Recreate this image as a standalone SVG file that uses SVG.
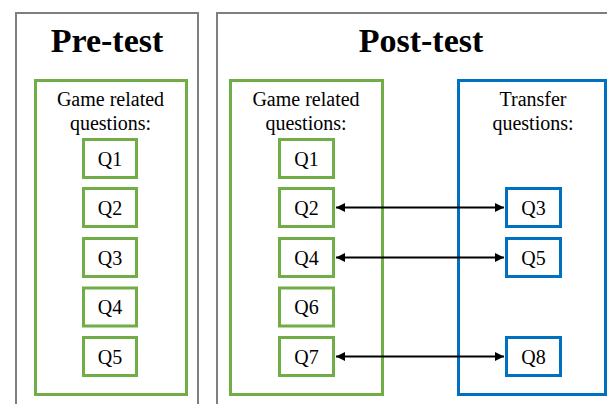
<svg xmlns="http://www.w3.org/2000/svg" width="607" height="404" viewBox="0 0 607 404">
  <defs>
    <style>
      .panel { fill: #ffffff; stroke: #7f7f7f; stroke-width: 2; }
      .grp-green { fill: none; stroke: #70ad47; stroke-width: 3; }
      .grp-blue { fill: none; stroke: #0070c0; stroke-width: 3; }
      .q-green { fill: #ffffff; stroke: #70ad47; stroke-width: 3; }
      .q-blue { fill: #ffffff; stroke: #0070c0; stroke-width: 3; }
      .title { font-family: "Liberation Serif", "Times New Roman", serif; font-weight: bold; font-size: 34px; fill: #000; text-anchor: middle; }
      .label { font-family: "Liberation Serif", "Times New Roman", serif; font-size: 20px; fill: #000; text-anchor: middle; }
      .link { stroke: #000; stroke-width: 1.8; fill: none; marker-start: url(#head); marker-end: url(#head); }
    </style>
    <marker id="head" viewBox="0 0 10 10" refX="10" refY="5" markerWidth="5" markerHeight="5" orient="auto-start-reverse" markerUnits="strokeWidth">
      <path d="M0,0 L10,5 L0,10 Z" fill="#000"/>
    </marker>
  </defs>

  <!-- Pre-test panel -->
  <g id="pre-test">
    <rect class="panel" x="16" y="13" width="182" height="400"/>
    <text class="title" x="107" y="52">Pre-test</text>
    <rect class="grp-green" x="35.5" y="80.5" width="151" height="314"/>
    <text class="label" x="110.5" y="106">Game related</text>
    <text class="label" x="110.5" y="130">questions:</text>
  </g>
  <g id="pre-q1"><rect class="q-green" x="83.5" y="139.5" width="53" height="38"/><text class="label" x="110" y="165.5">Q1</text></g>
  <g id="pre-q2"><rect class="q-green" x="83.5" y="188.5" width="53" height="38"/><text class="label" x="110" y="214.5">Q2</text></g>
  <g id="pre-q3"><rect class="q-green" x="83.5" y="238.5" width="53" height="38"/><text class="label" x="110" y="264.5">Q3</text></g>
  <g id="pre-q4"><rect class="q-green" x="83.5" y="288" width="53" height="38"/><text class="label" x="110" y="314">Q4</text></g>
  <g id="pre-q5"><rect class="q-green" x="83.5" y="337.5" width="53" height="38"/><text class="label" x="110" y="363.5">Q5</text></g>

  <!-- Post-test panel -->
  <g id="post-test">
    <rect class="panel" x="217" y="13" width="400" height="400"/>
    <text class="title" x="421" y="52">Post-test</text>
    <rect class="grp-green" x="230.5" y="80.5" width="152" height="314"/>
    <text class="label" x="306" y="106">Game related</text>
    <text class="label" x="306" y="130">questions:</text>
    <rect class="grp-blue" x="458.5" y="80.5" width="147" height="314"/>
    <text class="label" x="533" y="106">Transfer</text>
    <text class="label" x="533" y="130">questions:</text>
  </g>
  <g id="post-q1"><rect class="q-green" x="279.5" y="139.5" width="54" height="38"/><text class="label" x="306.5" y="165.5">Q1</text></g>
  <g id="post-q2"><rect class="q-green" x="279.5" y="188.5" width="54" height="38"/><text class="label" x="306.5" y="214.5">Q2</text></g>
  <g id="post-q4"><rect class="q-green" x="279.5" y="238.5" width="54" height="38"/><text class="label" x="306.5" y="264.5">Q4</text></g>
  <g id="post-q6"><rect class="q-green" x="279.5" y="288" width="54" height="38"/><text class="label" x="306.5" y="314">Q6</text></g>
  <g id="post-q7"><rect class="q-green" x="279.5" y="337.5" width="54" height="38"/><text class="label" x="306.5" y="363.5">Q7</text></g>
  <g id="post-q3"><rect class="q-blue" x="506.5" y="188.5" width="54" height="38"/><text class="label" x="533.5" y="214.5">Q3</text></g>
  <g id="post-q5"><rect class="q-blue" x="506.5" y="238.5" width="54" height="38"/><text class="label" x="533.5" y="264.5">Q5</text></g>
  <g id="post-q8"><rect class="q-blue" x="506.5" y="337.5" width="54" height="38"/><text class="label" x="533.5" y="363.5">Q8</text></g>

  <!-- Connectors between matched questions -->
  <g id="connectors">
    <line class="link" x1="336" y1="207.5" x2="504" y2="207.5"/>
    <line class="link" x1="336" y1="257.5" x2="504" y2="257.5"/>
    <line class="link" x1="336" y1="356.5" x2="504" y2="356.5"/>
  </g>
</svg>
